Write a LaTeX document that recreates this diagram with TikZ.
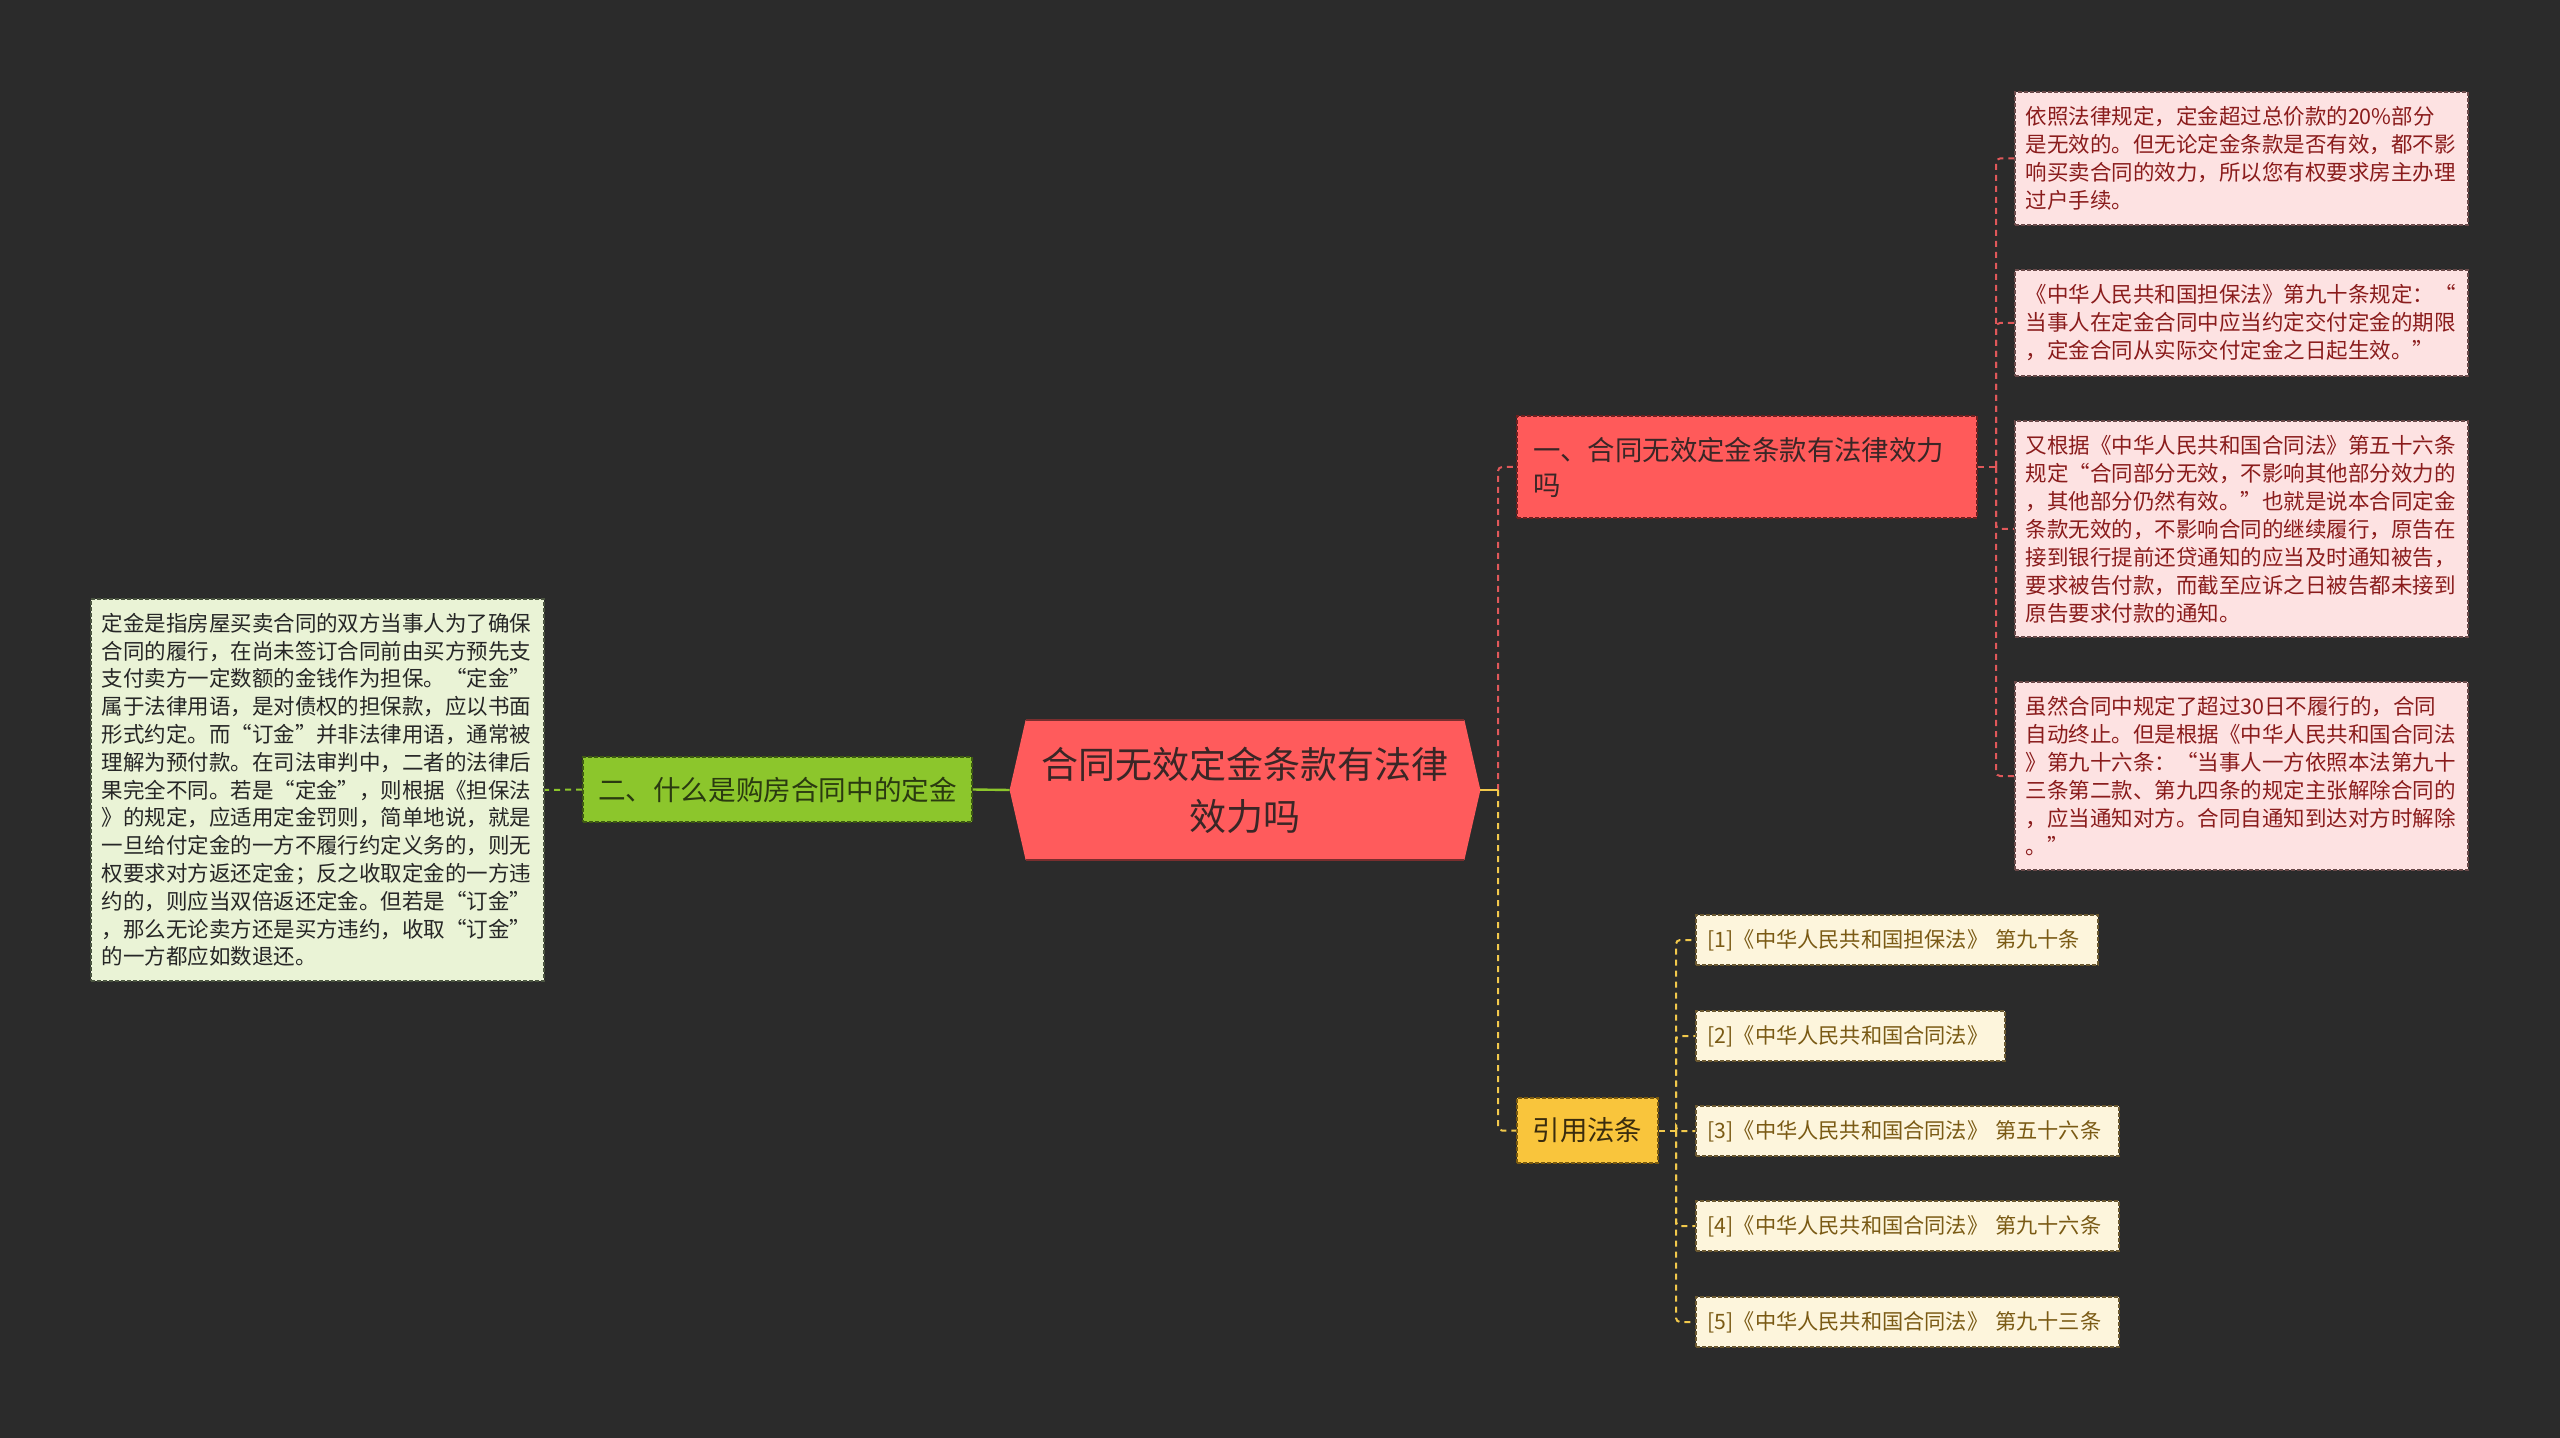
\documentclass[tikz,border=0pt]{standalone}
\usepackage{fontspec}
\setmainfont{Noto Sans CJK SC}
\definecolor{bg}{HTML}{2B2B2B}
\definecolor{rootFill}{HTML}{FF5B5C}
\definecolor{rootEdge}{HTML}{7A2E2E}
\definecolor{rootText}{HTML}{3A2626}
\definecolor{redFill}{HTML}{FF5A5A}
\definecolor{redEdge}{HTML}{6E2020}
\definecolor{greenFill}{HTML}{8CC62C}
\definecolor{greenEdge}{HTML}{3D5A12}
\definecolor{greenText}{HTML}{2A3A10}
\definecolor{yelFill}{HTML}{F9C53C}
\definecolor{yelEdge}{HTML}{7A5A10}
\definecolor{yelText}{HTML}{3A2C0E}
\definecolor{leafGreen}{HTML}{EAF3D6}
\definecolor{leafGreenEdge}{HTML}{4A5440}
\definecolor{leafPink}{HTML}{FDE2E2}
\definecolor{leafPinkEdge}{HTML}{6A4A4A}
\definecolor{pinkText}{HTML}{8A1C1C}
\definecolor{leafCream}{HTML}{FDF5DC}
\definecolor{creamEdge}{HTML}{6A5830}
\definecolor{creamText}{HTML}{7A5A14}
\definecolor{connRed}{HTML}{E0585A}
\definecolor{connYel}{HTML}{F2C94C}
\definecolor{connGreen}{HTML}{8CC62C}
\tikzset{
  nodedash/.style={dash pattern=on 2pt off 1pt, line width=0.8pt},
  rootnode/.style={inner sep=0pt, minimum width=235pt, minimum height=69.5pt, text width=215pt, align=center, text=rootText, font=\fontsize{18.5pt}{26pt}\selectfont},
  rednode/.style={draw=redEdge, nodedash, fill=redFill, inner xsep=8pt, inner ysep=0pt, text width=214pt, minimum height=51pt, align=left, text=rootText, font=\fontsize{13.7pt}{17.5pt}\selectfont},
  greennode/.style={draw=greenEdge, nodedash, fill=greenFill, inner sep=0pt, minimum width=194.5pt, minimum height=32.5pt, align=center, text=greenText, font=\fontsize{13.8pt}{17.5pt}\selectfont},
  yelnode/.style={draw=yelEdge, nodedash, fill=yelFill, inner sep=0pt, minimum width=70.5pt, minimum height=32.5pt, align=center, text=yelText, font=\fontsize{13.7pt}{17.5pt}\selectfont},
  greenleaf/.style={draw=leafGreenEdge, nodedash, fill=leafGreen, inner xsep=5.25pt, inner ysep=0pt, text width=216pt, align=left, text=black!85, font=\fontsize{10.75pt}{13.9pt}\selectfont},
  pinkleaf/.style={draw=leafPinkEdge, nodedash, fill=leafPink, inner xsep=5.25pt, inner ysep=0pt, text width=216pt, align=left, text=pinkText, font=\fontsize{10.75pt}{14pt}\selectfont},
  creamleaf/.style={draw=creamEdge, nodedash, fill=leafCream, anchor=west, inner xsep=6pt, inner ysep=0pt, minimum height=25pt, align=left, text=creamText, font=\fontsize{10.6pt}{13pt}\selectfont},
  rdash/.style={draw=connRed, line width=1pt, dash pattern=on 3pt off 2.5pt, rounded corners=2pt},
  ydash/.style={draw=connYel, line width=1pt, dash pattern=on 3pt off 2.5pt, rounded corners=2pt},
  yline/.style={draw=connYel, line width=1.2pt},
  gline/.style={draw=connGreen, line width=1.2pt},
  gdash/.style={draw=connGreen, line width=1pt, dash pattern=on 3pt off 2.5pt},
}
\begin{document}
\begin{tikzpicture}[x=0.5pt,y=-0.5pt]
\fill[bg] (0,0) rectangle (2560,1438);
\useasboundingbox (0,0) rectangle (2560,1438);

% root
\node[rootnode] (root) at (1245,790) {合同无效定金条款有法律\\效力吗};
\fill[rootFill] (root.west) -- ([xshift=8pt]root.north west) -- ([xshift=-8pt]root.north east) -- (root.east) -- ([xshift=-8pt]root.south east) -- ([xshift=8pt]root.south west) -- cycle;
\draw[rootEdge, line width=0.8pt] ([xshift=8pt]root.north west) -- ([xshift=-8pt]root.north east);
\draw[rootEdge, line width=0.8pt] ([xshift=8pt]root.south west) -- ([xshift=-8pt]root.south east);
\node[rootnode] at (root.center) {合同无效定金条款有法律\\效力吗};

% level 1
\node[rednode] (n1) at (1747,467) {一、合同无效定金条款有法律效力\\吗};
\node[greennode] (n2) at (777.5,789.5) {二、什么是购房合同中的定金};
\node[yelnode] (n3) at (1587.5,1130.5) {引用法条};

% left leaf
\node[greenleaf, minimum height=191pt] (lb) at (317.5,790) {定金是指房屋买卖合同的双方当事人为了确保\\合同的履行，在尚未签订合同前由买方预先支\\支付卖方一定数额的金钱作为担保。“定金”\\属于法律用语，是对债权的担保款，应以书面\\形式约定。而“订金”并非法律用语，通常被\\理解为预付款。在司法审判中，二者的法律后\\果完全不同。若是“定金”，则根据《担保法\\》的规定，应适用定金罚则，简单地说，就是\\一旦给付定金的一方不履行约定义务的，则无\\权要求对方返还定金；反之收取定金的一方违\\约的，则应当双倍返还定金。但若是“订金”\\，那么无论卖方还是买方违约，收取“订金”\\的一方都应如数退还。};

% right pink leaves
\node[pinkleaf, minimum height=66.5pt] (t1) at (2241.5,158.5) {依照法律规定，定金超过总价款的20\%部分\\是无效的。但无论定金条款是否有效，都不影\\响买卖合同的效力，所以您有权要求房主办理\\过户手续。};
\node[pinkleaf, minimum height=53pt] (t2) at (2241.5,323) {《中华人民共和国担保法》第九十条规定：“\\当事人在定金合同中应当约定交付定金的期限\\，定金合同从实际交付定金之日起生效。”};
\node[pinkleaf, minimum height=108pt] (t3) at (2241.5,529) {又根据《中华人民共和国合同法》第五十六条\\规定“合同部分无效，不影响其他部分效力的\\，其他部分仍然有效。”也就是说本合同定金\\条款无效的，不影响合同的继续履行，原告在\\接到银行提前还贷通知的应当及时通知被告，\\要求被告付款，而截至应诉之日被告都未接到\\原告要求付款的通知。};
\node[pinkleaf, minimum height=94pt] (t4) at (2241.5,776) {虽然合同中规定了超过30日不履行的，合同\\自动终止。但是根据《中华人民共和国合同法\\》第九十六条：“当事人一方依照本法第九十\\三条第二款、第九四条的规定主张解除合同的\\，应当通知对方。合同自通知到达对方时解除\\。”};

% citations
\node[creamleaf, minimum width=201pt, text width=189pt] (c1) at (1695,940) {[1]《中华人民共和国担保法》 第九十条};
\node[creamleaf, minimum width=154.5pt, text width=142.5pt] (c2) at (1695,1036) {[2]《中华人民共和国合同法》};
\node[creamleaf, minimum width=211.5pt, text width=199.5pt] (c3) at (1695,1131) {[3]《中华人民共和国合同法》 第五十六条};
\node[creamleaf, minimum width=211.5pt, text width=199.5pt] (c4) at (1695,1226) {[4]《中华人民共和国合同法》 第九十六条};
\node[creamleaf, minimum width=211.5pt, text width=199.5pt] (c5) at (1695,1322) {[5]《中华人民共和国合同法》 第九十三条};

% connectors
\coordinate (jr) at (1498,790);
\coordinate (jr2) at (1996,467);
\coordinate (jy2) at (1676,1130.5);
\draw[rdash] (jr) |- (n1.west);
\draw[ydash] (jr) |- (n3.west);
\draw[yline] (root.east) -- (jr);
\draw[gline] (root.west) -- (n2.east);
\draw[gdash] (n2.west) -- (lb.east);
\draw[rdash] (n1.east) -- (jr2);
\foreach \t in {t1,t2,t3,t4} \draw[rdash] (jr2) |- (\t.west);
\draw[ydash] (n3.east) -- (jy2);
\foreach \c in {c1,c2,c3,c4,c5} \draw[ydash] (jy2) |- (\c.west);
\end{tikzpicture}
\end{document}
